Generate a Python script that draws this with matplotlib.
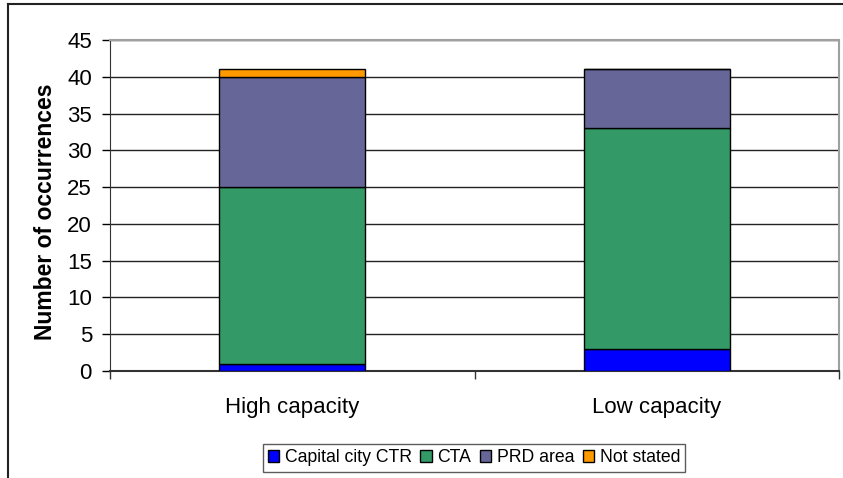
import matplotlib
matplotlib.use("Agg")
import matplotlib.pyplot as plt
from matplotlib.lines import Line2D
import numpy as np

categories = ["High capacity", "Low capacity"]
series_names = ["Capital city CTR", "CTA", "PRD area", "Not stated"]
capital = [1, 3]
cta = [24, 30]
prd = [15, 8]
not_stated = [1, 0]
colors = ["#0000FF", "#339966", "#666699", "#FF9900"]
yticks = [0, 5, 10, 15, 20, 25, 30, 35, 40, 45]

plt.rcParams['font.family'] = ['Liberation Sans', 'DejaVu Sans']

W, H = 843, 478
fig = plt.figure(figsize=(W / 100, H / 100), dpi=100)
ax = fig.add_axes([110 / W, 1 - 371 / H, (839 - 110) / W, (371 - 40) / H])

x = np.arange(len(categories))
bottom = np.zeros(len(categories))
for vals, name, col in zip([capital, cta, prd, not_stated], series_names, colors):
    v = np.array(vals, dtype=float)
    ax.bar(x, v, bottom=bottom, width=0.4, color=col, edgecolor="black",
           linewidth=1.0, label=name, zorder=3)
    bottom += v

ax.set_xlim(-0.5, 1.5)
ax.set_ylim(0, 45)
ax.set_yticks(yticks)
ax.set_yticklabels([str(t) for t in yticks], fontsize=16)
ax.yaxis.grid(True, color="#222222", linewidth=1.0, zorder=0)
ax.set_axisbelow(True)

ax.set_xticks(x)
ax.set_xticklabels(categories, fontsize=16)
ax.tick_params(axis="x", length=0, pad=19)
ax.set_xticks([-0.5, 0.5, 1.5], minor=True)
ax.tick_params(axis="x", which="minor", length=6, width=1, color="#333333")
ax.tick_params(axis="y", length=6, width=1, direction="out", pad=7)

for s in ["top", "right"]:
    ax.spines[s].set_color("#A0A0A0")
    ax.spines[s].set_linewidth(1.5)
ax.spines["left"].set_color("#333333")
ax.spines["bottom"].set_color("#333333")
ax.spines["bottom"].set_linewidth(1.5)

ax.set_ylabel("Number of occurrences", fontsize=16.5, fontweight="bold")
ax.yaxis.set_label_coords((57 - 110) / 729, 0.48)

leg = fig.legend(loc="center", bbox_to_anchor=(474 / W, 1 - 458 / H), ncol=4,
                 fontsize=12.7, frameon=True, fancybox=False, edgecolor="#333333",
                 handlelength=0.65, handleheight=0.65, handletextpad=0.3,
                 columnspacing=0.5, borderpad=0.3, borderaxespad=0)
leg.get_frame().set_linewidth(1.0)

fig.add_artist(Line2D([8 / W, 1], [1 - 4 / H, 1 - 4 / H], transform=fig.transFigure,
                      color="#222222", linewidth=1.5))
fig.add_artist(Line2D([8 / W, 8 / W], [0, 1 - 4 / H], transform=fig.transFigure,
                      color="#222222", linewidth=1.5))

fig.savefig("out.png", dpi=100)
